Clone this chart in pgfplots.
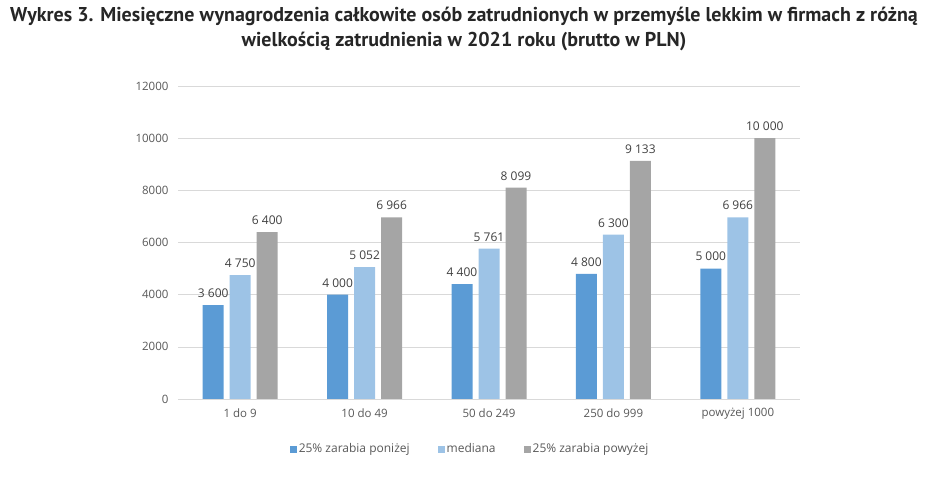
\documentclass[border=0pt]{standalone}
\usepackage{fontspec}
\setmainfont{Open Sans}
\newfontfamily\titlefont{PT Sans}
\usepackage{pgfplots}
\pgfplotsset{compat=1.18}
\definecolor{cA}{HTML}{5B9BD5}
\definecolor{cB}{HTML}{9DC3E6}
\definecolor{cC}{HTML}{A5A5A5}
\definecolor{tickc}{HTML}{595959}
\definecolor{labc}{HTML}{404040}
\definecolor{gridc}{HTML}{D9D9D9}
\begin{document}
\begin{tikzpicture}[x=1pt,y=1pt]
\path[use as bounding box] (0,0) rectangle (928,489);
\node[font=\titlefont\bfseries\fontsize{20}{25}\selectfont, align=center, text=black!85] at (464,459.5) {Wykres 3. Miesięczne wynagrodzenia całkowite osób zatrudnionych w przemyśle lekkim w firmach z różną\\wielkością zatrudnienia w 2021 roku (brutto w PLN)};
\begin{axis}[
  at={(178pt,90pt)}, anchor=south west,
  scale only axis, width=622pt, height=313pt,
  xmin=-0.5, xmax=4.5, ymin=0, ymax=12000,
  ytick={0,2000,...,12000},
  scaled y ticks=false,
  xtick={0,1,2,3,4},
  xticklabels={1 do 9,10 do 49,50 do 249,250 do 999,powyżej 1000},
  ymajorgrids, grid style={color=gridc},
  axis x line*=bottom, axis y line*=left,
  y axis line style={draw=none},
  x axis line style={color=gridc},
  major tick length=0pt,
  tick label style={font=\fontsize{11.5}{13}\selectfont, text=tickc},
  yticklabel style={/pgf/number format/1000 sep={}, xshift=-6pt},
  xticklabel style={yshift=-6pt},
  /pgf/number format/assume math mode=true,
  ybar=6pt, bar width=21pt,
  nodes near coords={\pgfmathprintnumber[fixed,precision=0,1000 sep={\ },assume math mode=true]{\pgfplotspointmeta}},
  every node near coord/.append style={font=\fontsize{12}{14}\selectfont, text=labc, yshift=4pt},
  legend style={at={(0.4695,-0.16)}, anchor=center, draw=none, legend columns=3,
    font=\fontsize{12}{14}\selectfont, text=tickc,
    /tikz/every even column/.append style={column sep=26pt}},
  legend image code/.code={\fill[#1] (0pt,-3.5pt) rectangle (7pt,3.5pt);},
]
\addplot[fill=cA, draw=none] coordinates {(0,3600) (1,4000) (2,4400) (3,4800) (4,5000)};
\addplot[fill=cB, draw=none] coordinates {(0,4750) (1,5052) (2,5761) (3,6300) (4,6966)};
\addplot[fill=cC, draw=none] coordinates {(0,6400) (1,6966) (2,8099) (3,9133) (4,10000)};
\legend{25\% zarabia poniżej, mediana, 25\% zarabia powyżej}
\end{axis}
\end{tikzpicture}
\end{document}
